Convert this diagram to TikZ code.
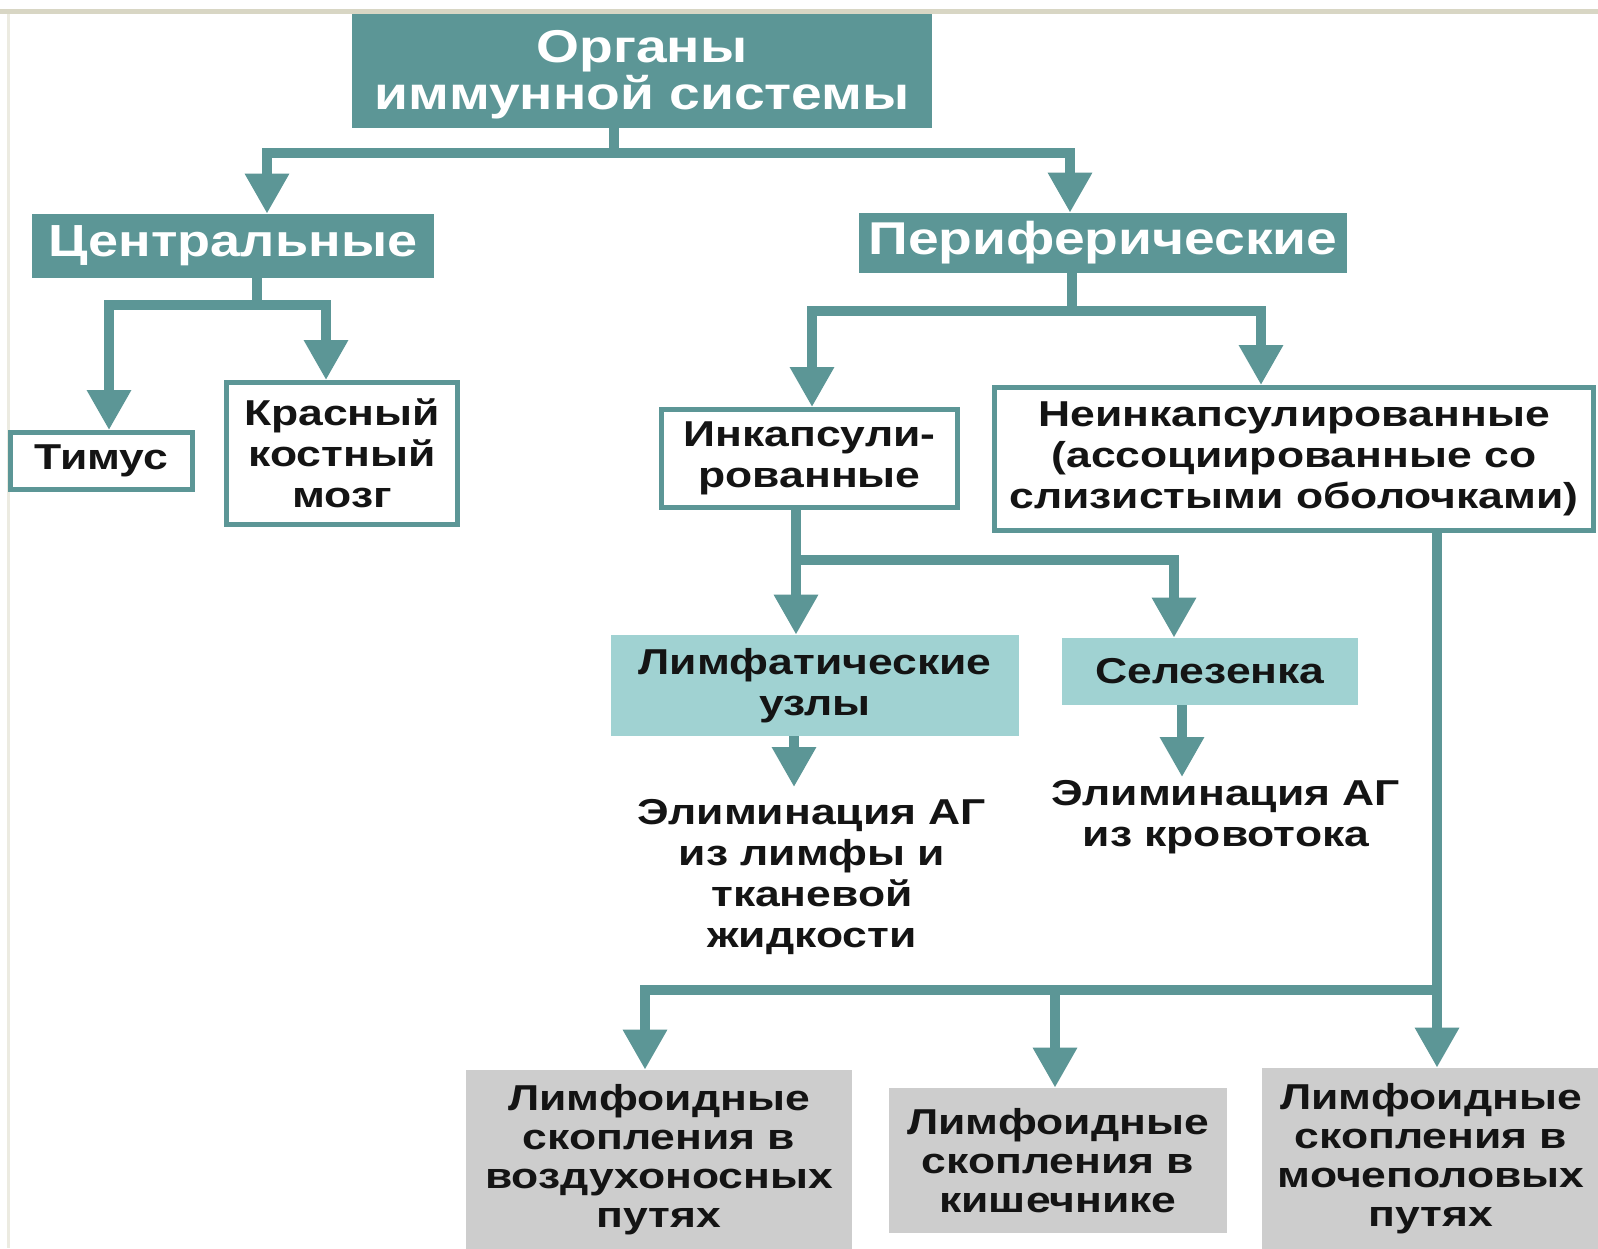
\documentclass[tikz,border=0pt]{standalone}
\usepackage{fontspec}
\setmainfont{Liberation Sans}
\newfontfamily\wfont{Liberation Sans}[FakeStretch=1.2]
\newfontfamily\bfont{Liberation Sans}[FakeStretch=1.235]
\usetikzlibrary{arrows.meta}
\definecolor{teal1}{RGB}{92,150,150}
\definecolor{tealL}{RGB}{160,210,210}
\definecolor{grayB}{RGB}{205,205,205}
\definecolor{beigeL}{RGB}{216,214,196}
\definecolor{txt}{RGB}{20,20,20}
\begin{document}
\begin{tikzpicture}[x=0.5pt,y=-0.5pt,
 base/.style={inner sep=0pt, align=center, text=txt, font=\bfont\bfseries\fontsize{18}{20.5}\selectfont},
 hbox/.style={base, fill=teal1, text=white, font=\wfont\bfseries\fontsize{23}{23.5}\selectfont},
 wbox/.style={base, draw=teal1, line width=2.5pt, fill=white},
 lbox/.style={base, fill=tealL},
 gbox/.style={base, fill=grayB, font=\bfont\bfseries\fontsize{18}{19.5}\selectfont},
 conn/.style={draw=teal1, line width=4.75pt},
 arr/.style={conn, -{Triangle[width=21pt,length=20pt]}},
]
\useasboundingbox (0,0) rectangle (1598,1248);
\fill[white] (0,0) rectangle (1598,1248);
\fill[beigeL] (0,9) rectangle (1598,14);
\fill[beigeL!50] (7,14) rectangle (9.5,1248);

\node[hbox, minimum width=290pt, minimum height=57pt, text depth=1pt] (hdr) at (642,71) {Органы\\иммунной системы};
\node[hbox, minimum width=201pt, minimum height=32pt, font=\wfont\bfseries\fontsize{22.5}{23.5}\selectfont] (cen) at (233,246) {Центральные};
\node[hbox, minimum width=244pt, minimum height=30pt] (per) at (1103,243) {Периферические};
\node[wbox, minimum width=91pt, minimum height=28.5pt] (tim) at (101.5,461) {Тимус};
\node[wbox, minimum width=115.5pt, minimum height=71pt] (kbm) at (342,453.5) {Красный\\костный\\мозг};
\node[wbox, minimum width=148pt, minimum height=49pt] (ink) at (809.5,458.5) {Инкапсули-\\рованные};
\node[wbox, minimum width=299.5pt, minimum height=71.5pt] (nei) at (1294,459) {Неинкапсулированные\\(ассоциированные со\\слизистыми оболочками)};
\node[lbox, minimum width=204pt, minimum height=50.5pt] (lim) at (815,685.5) {Лимфатические\\узлы};
\node[lbox, minimum width=148pt, minimum height=33.5pt] (sel) at (1210,671.5) {Селезенка};
\node[base, anchor=north, outer sep=6pt] (el1) at (812,787) {Элиминация АГ\\из лимфы и\\тканевой\\жидкости};
\node[base, anchor=north, outer sep=1.5pt] (el2) at (1226,777) {Элиминация АГ\\из кровотока};
\node[gbox, minimum width=193pt, minimum height=90pt] (b1) at (659,1160) {Лимфоидные\\скопления в\\воздухоносных\\путях};
\node[gbox, minimum width=169pt, minimum height=72.5pt] (b2) at (1058,1160.5) {Лимфоидные\\скопления в\\кишечнике};
\node[gbox, minimum width=169pt, minimum height=91pt] (b3) at (1431,1159) {Лимфоидные\\скопления в\\мочеполовых\\путях};

\coordinate (j0) at (614,153);
\coordinate (xa) at (267,0);
\coordinate (xb) at (1070,0);
\draw[conn] (hdr.south -| j0) -- (j0);
\draw[arr] (j0) -| (xa |- cen.north);
\draw[arr] (j0) -| (xb |- per.north);

\coordinate (j1) at (257,305);
\coordinate (xc) at (109,0);
\coordinate (xd) at (326,0);
\draw[conn] (cen.south -| j1) -- (j1);
\draw[arr] (j1) -| (xc |- tim.north);
\draw[arr] (j1) -| (xd |- kbm.north);

\coordinate (j2) at (1072,311);
\coordinate (xe) at (812,0);
\coordinate (xf) at (1261,0);
\draw[conn] (per.south -| j2) -- (j2);
\draw[arr] (j2) -| (xe |- ink.north);
\draw[arr] (j2) -| (xf |- nei.north);

\coordinate (j3) at (796,560);
\coordinate (xg) at (1174,0);
\draw[conn] (ink.south -| j3) -- (j3);
\draw[arr] (j3) -- (j3 |- lim.north);
\draw[arr] (j3) -| (xg |- sel.north);

\coordinate (xh) at (794,0);
\coordinate (xi) at (1182,0);
\draw[arr] (xh |- lim.south) -- (xh |- el1.north);
\draw[arr] (xi |- sel.south) -- (xi |- el2.north);

\coordinate (j4) at (1437,990);
\coordinate (xk) at (645,0);
\coordinate (xl) at (1055,0);
\draw[arr] (j4 |- nei.south) -- (j4 |- b3.north);
\draw[arr] (j4) -| (xk |- b1.north);
\draw[arr] (xl |- j4) -- (xl |- b2.north);
\end{tikzpicture}
\end{document}
